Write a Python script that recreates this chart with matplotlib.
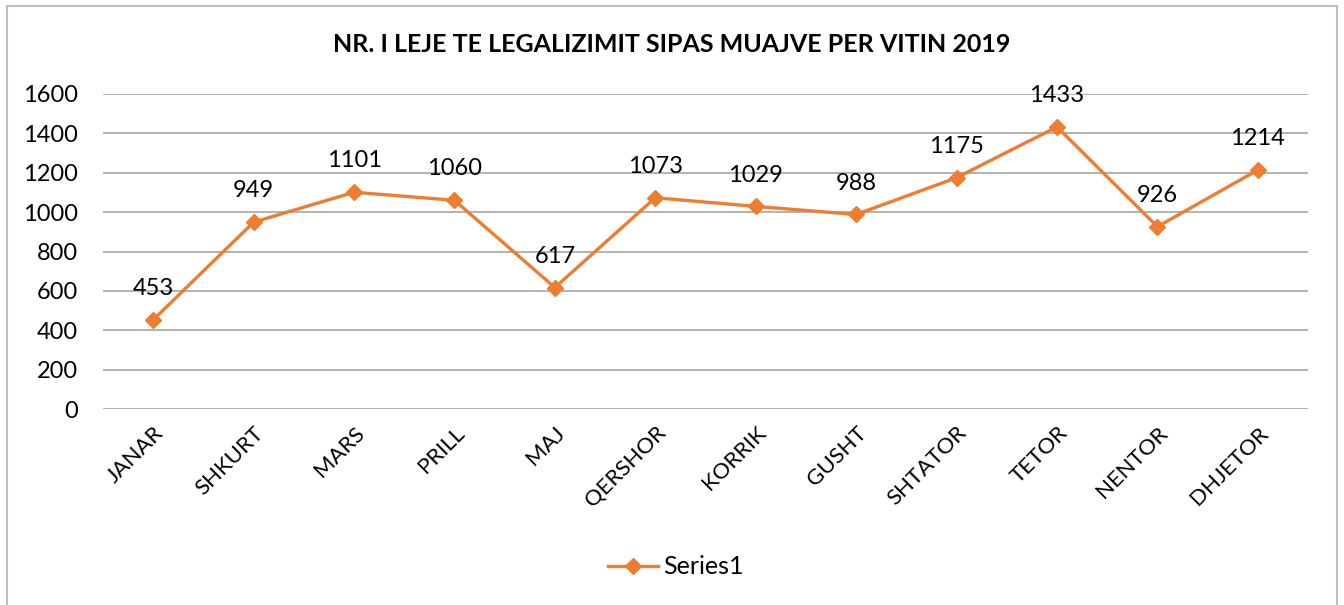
"""Monthly legalization permits chart, 2019."""

import matplotlib

matplotlib.use("Agg")

import matplotlib.pyplot as plt
from matplotlib.patches import Rectangle

MONTHS = [
    "JANAR", "SHKURT", "MARS", "PRILL", "MAJ", "QERSHOR",
    "KORRIK", "GUSHT", "SHTATOR", "TETOR", "NENTOR", "DHJETOR",
]
PERMITS = [453, 949, 1101, 1060, 617, 1073, 1029, 988, 1175, 1433, 926, 1214]
Y_TICKS = [0, 200, 400, 600, 800, 1000, 1200, 1400, 1600]

TITLE = "NR. I LEJE TE LEGALIZIMIT SIPAS MUAJVE PER VITIN 2019"
SERIES_NAME = "Series1"
ORANGE = "#ED7D31"
GRID = "#a6a6a6"

plt.rcParams["font.family"] = ["Lato", "DejaVu Sans"]

fig = plt.figure(figsize=(13.44, 6.05), dpi=100)
fig.patches.append(
    Rectangle((7 / 1344, -0.05), 1330 / 1344, 1.05 - 6 / 605,
              transform=fig.transFigure, fill=False,
              edgecolor="#bfbfbf", linewidth=1.5)
)

ax = fig.add_axes([103 / 1344, 1 - 409 / 605, 1205 / 1344, 315 / 605])
x = list(range(len(MONTHS)))
ax.plot(x, PERMITS, color=ORANGE, linewidth=2.4, marker="D",
        markersize=8, label=SERIES_NAME, zorder=3)

for xi, val in zip(x, PERMITS):
    ax.annotate(str(val), (xi, val), xytext=(0, 15), textcoords="offset points",
                ha="center", va="bottom", fontsize=17, color="#000000")

ax.set_xlim(-0.5, len(MONTHS) - 0.5)
ax.set_ylim(0, 1600)
ax.set_yticks(Y_TICKS)
ax.set_yticklabels([str(t) for t in Y_TICKS], fontsize=17)
ax.set_xticks(x)
ax.set_xticklabels(MONTHS, rotation=45, ha="right", va="top",
                   rotation_mode="anchor", fontsize=16)
ax.tick_params(axis="y", length=0, pad=18)
ax.tick_params(axis="x", length=0, pad=10)
ax.grid(True, axis="y", color=GRID, linewidth=1.2)
ax.set_axisbelow(True)
for spine in ax.spines.values():
    spine.set_visible(False)

fig.text(672 / 1344, 1 - 45 / 605, TITLE, ha="center", va="center",
         fontsize=18, fontweight="bold")

fig.legend(loc="center", bbox_to_anchor=(676 / 1344, 1 - 567 / 605),
           frameon=False, fontsize=18, handlelength=2.0, handletextpad=0.2)

fig.savefig("out.png", dpi=100)
